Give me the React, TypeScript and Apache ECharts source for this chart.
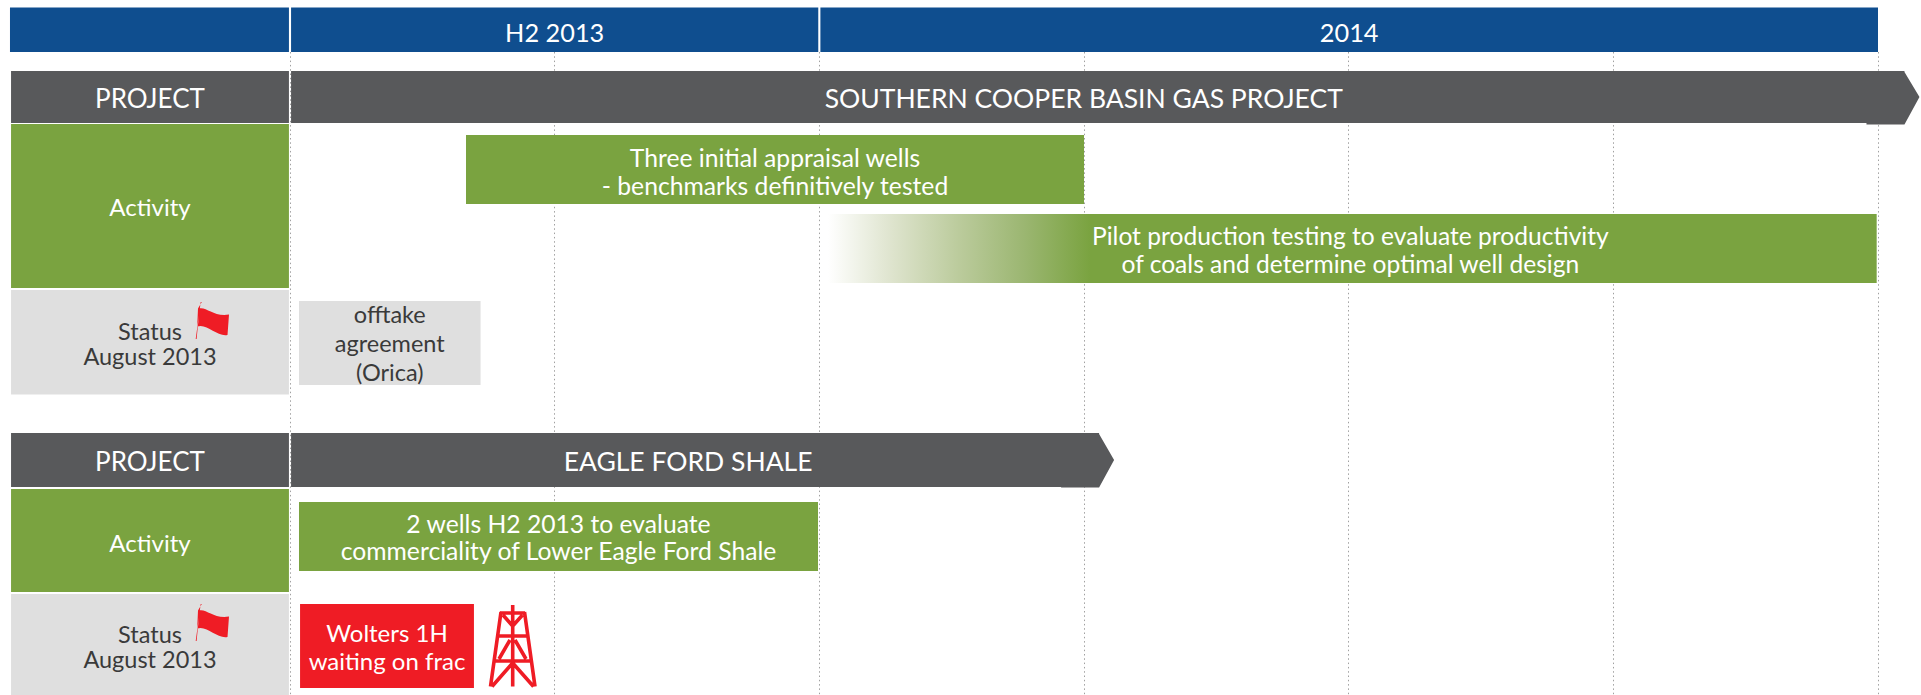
import React, { useEffect, useRef } from "react";
import * as echarts from "echarts";

// Timeline is measured in quarters: 0 = start of Q3 2013, 6 = end of Q4 2014.
const periodNames = ["", "H2 2013", "2014"];
const periodStarts = [-1.058, 0.004, 2.004];
const periodEnds = [-0.004, 1.996, 6];

const rowHeaderNames = [
  "PROJECT",
  "Activity",
  "Status\nAugust 2013",
  "PROJECT",
  "Activity",
  "Status\nAugust 2013",
];
const rowHeaderBands = ["project1", "activity1", "status1", "project2", "activity2", "status2"];
const rowHeaderKinds = ["dark", "green", "light", "dark", "green", "light"];

const projectNames = ["SOUTHERN COOPER BASIN GAS PROJECT", "EAGLE FORD SHALE"];
const projectStarts = [0.004, 0.004];
const projectEnds = [6.1, 3.057];
const projectBands = ["project1", "project2"];

const taskNames = [
  "Three initial appraisal wells\n- benchmarks definitively tested",
  "Pilot production testing to evaluate productivity\nof coals and determine optimal well design",
  "offtake\nagreement\n(Orica)",
  "2 wells H2 2013 to evaluate\ncommerciality of Lower Eagle Ford Shale",
  "Wolters 1H\nwaiting on frac",
];
const taskStarts = [0.665, 2.033, 0.034, 0.034, 0.038];
const taskEnds = [3.0, 5.995, 0.72, 1.995, 0.695];
const taskBands = ["task1a", "task1b", "task1c", "task2a", "task2b"];
const taskKinds = ["green", "fade", "light", "green", "red"];

// Vertical extents of the rows, in pixels of the chart.
const BANDS: Record<string, [number, number]> = {
  period: [7.5, 52],
  project1: [71, 123],
  activity1: [124, 288],
  status1: [290, 394.5],
  project2: [433, 487],
  activity2: [489, 592],
  status2: [594, 695],
  task1a: [135, 204],
  task1b: [214, 283],
  task1c: [301, 385],
  task2a: [502, 571],
  task2b: [604, 688],
};

const BLUE = "#0F4E8F";
const DARK = "#58595B";
const GREEN = "#7AA340";
const LIGHT = "#DFDFDF";
const RED = "#EF1C25";
const INK = "#3A3A3A";
const RULE = "#A0A0A0";

const FILLS: Record<string, string> = { blue: BLUE, dark: DARK, green: GREEN, light: LIGHT, red: RED };
const TEXT_COLORS: Record<string, string> = { light: INK };

// Typography per row: size, line height and nudges from the centre of the mark.
type Type = { size: number; line: number; dx?: number; dy?: number };
const PERIOD_TYPE: Type = { size: 25.3, line: 30, dy: 2.5 };
const HEADER_TYPES: Type[] = [
  { size: 26, line: 30, dy: 1 },
  { size: 24, line: 30, dy: 0 },
  { size: 23.5, line: 25, dy: 1 },
  { size: 26, line: 30, dy: 1 },
  { size: 24, line: 30, dy: 1.5 },
  { size: 23.5, line: 25, dy: 2 },
];
const PROJECT_TYPES: Type[] = [
  { size: 26.5, line: 30, dx: -14, dy: 1 },
  { size: 26.5, line: 30, dx: -7, dy: 1 },
];
const TASK_TYPES: Type[] = [
  { size: 24.7, line: 28, dy: 1.5 },
  { size: 24.6, line: 28, dx: -2, dy: 0.5 },
  { size: 23.5, line: 29.4, dy: 0 },
  { size: 24.7, line: 27, dy: 0.5 },
  { size: 24, line: 28, dy: 0 },
];

type Mark = { name: string; start: number; end: number; band: string; kind: string; type: Type };

const marks: Mark[] = [
  ...periodNames.map((name, i) => ({ name, start: periodStarts[i], end: periodEnds[i], band: "period", kind: "blue", type: PERIOD_TYPE })),
  ...rowHeaderNames.map((name, i) => ({ name, start: -1.054, end: -0.004, band: rowHeaderBands[i], kind: rowHeaderKinds[i], type: HEADER_TYPES[i] })),
  ...projectNames.map((name, i) => ({ name, start: projectStarts[i], end: projectEnds[i], band: projectBands[i], kind: "arrow", type: PROJECT_TYPES[i] })),
  ...taskNames.map((name, i) => ({ name, start: taskStarts[i], end: taskEnds[i], band: taskBands[i], kind: taskKinds[i], type: TASK_TYPES[i] })),
];

function fillFor(kind: string, width: number) {
  if (kind === "fade") {
    const stop = Math.min(1, 262 / width);
    return new echarts.graphic.LinearGradient(0, 0, 1, 0, [
      { offset: 0, color: "#FFFFFF" },
      { offset: stop * 0.25, color: "#DDE3CC" },
      { offset: stop * 0.5, color: "#BBCB9C" },
      { offset: stop * 0.75, color: "#9BB671" },
      { offset: stop, color: GREEN },
      { offset: 1, color: GREEN },
    ]);
  }
  return FILLS[kind] ?? DARK;
}

function renderMark(_params: any, api: any) {
  const mark = marks[api.value(2)];
  const [top, bottom] = BANDS[mark.band];
  const x0 = api.coord([api.value(0), top])[0];
  const x1 = api.coord([api.value(1), top])[0];
  const y0 = api.coord([0, top])[1];
  const y1 = api.coord([0, bottom])[1];
  const children: any[] = [];
  if (mark.kind === "arrow") {
    // Pentagon with a slightly offset head, as the arrow shape is built from two pieces.
    const lip = mark.band === "project1" ? 1.5 : 0.4;
    children.push({
      type: "polygon",
      shape: {
        points: [
          [x0, y0],
          [x1, y0],
          [x1, y0 + 1],
          [x1 + 15, (y0 + y1) / 2],
          [x1, y1 + lip],
          [x1 - 38, y1 + lip],
          [x1 - 38, y1],
          [x0, y1],
        ],
      },
      style: { fill: DARK },
    });
  } else {
    children.push({
      type: "rect",
      shape: { x: x0, y: y0, width: x1 - x0, height: y1 - y0 },
      style: { fill: fillFor(mark.kind, x1 - x0) },
    });
  }
  if (mark.name) {
    const { size, line, dx, dy } = mark.type;
    children.push({
      type: "text",
      style: {
        x: (x0 + x1) / 2 + (dx ?? 0),
        y: (y0 + y1) / 2 + (dy ?? 0),
        text: mark.name,
        fill: TEXT_COLORS[mark.kind] ?? "#FFFFFF",
        fontFamily: "Lato",
        fontSize: size,
        lineHeight: line,
        align: "center",
        verticalAlign: "middle",
      },
    });
  }
  return { type: "group", children };
}

// Hand-drawn glyphs: a waving status flag and a drilling rig.
const FLAG_PATH =
  "M15.7 7 L10.7 44 L11.6 44 L14.6 13.3 C 22 12 29 22 44 19.5 L42.5 40 C 32 42 22 28 12.2 31.5 L13 13.5 L16.8 7 Z";
const RIG_PATH =
  "M21 17 L10.5 91.5 M44.5 17 L55 91.5 M20 18 L45 18 M16 41 L49 41 M12.5 66 L52.5 66 M32.7 10 L32.7 91.5" +
  " M23 20 L32.7 31 L42.5 20 M19 64 L30 45 M46 64 L35 45 M32.7 68 L12 91.5 M32.7 68 L53.5 91.5";

echarts.graphic.registerShape("statusFlag", echarts.graphic.extendPath(FLAG_PATH as any, {}) as any);
echarts.graphic.registerShape("drillRig", echarts.graphic.extendPath(RIG_PATH as any, {}) as any);

const flagTops = [295, 597];

export default function App() {
  const ref = useRef<HTMLDivElement>(null);
  useEffect(() => {
    const chart = echarts.init(ref.current!, undefined, { renderer: "svg" });
    chart.setOption({
      animation: false,
      backgroundColor: "#FFFFFF",
      grid: { left: 290, right: 43, top: 52, bottom: 0 },
      xAxis: {
        type: "value",
        min: 0,
        max: 6,
        interval: 1,
        axisLine: { show: false },
        axisTick: { show: false },
        axisLabel: { show: false },
        splitLine: { show: true, lineStyle: { color: RULE, width: 1, type: [1.5, 2.8] } },
      },
      yAxis: {
        type: "value",
        inverse: true,
        min: 52,
        max: 695,
        axisLine: { show: false },
        axisTick: { show: false },
        axisLabel: { show: false },
        splitLine: { show: false },
      },
      series: [
        {
          // Dotted rule along the outer left edge of the table.
          type: "line",
          silent: true,
          symbol: "none",
          clip: false,
          z: 1,
          data: [
            [-1.058, 52],
            [-1.058, 695],
          ],
          lineStyle: { color: RULE, width: 1, type: [1.5, 2.8] },
        },
        {
          type: "custom",
          silent: true,
          clip: false,
          z: 2,
          data: marks.map((m, i) => [m.start, m.end, i]),
          encode: { x: [0, 1], y: 2 },
          renderItem: renderMark,
        },
      ],
      graphic: [
        ...flagTops.map((top) => ({
          type: "statusFlag",
          x: 185,
          y: top,
          z: 100,
          silent: true,
          style: { fill: RED },
        })),
        {
          type: "drillRig",
          x: 480,
          y: 595,
          z: 100,
          silent: true,
          style: { fill: "none", stroke: RED, lineWidth: 3.6 },
        },
      ],
    });
    return () => chart.dispose();
  }, []);
  return <div ref={ref} style={{ position: "fixed", left: 0, top: 0, width: 1921, height: 695 }} />;
}
